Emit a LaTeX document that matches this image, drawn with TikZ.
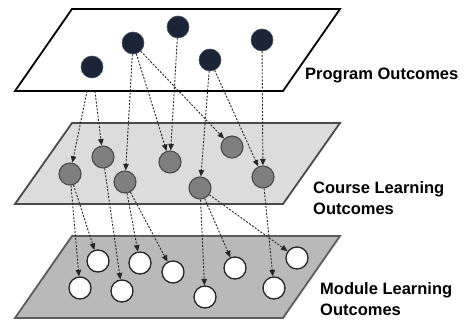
\documentclass[tikz,border=0pt]{standalone}
\usepackage{fontspec}
\setmainfont{Liberation Sans}
\usetikzlibrary{arrows.meta}
\definecolor{navy}{HTML}{1C2437}
\definecolor{midfill}{HTML}{DCDCDC}
\definecolor{botfill}{HTML}{B9B9B9}
\definecolor{cgray}{HTML}{7F7F7F}
\definecolor{edgegray}{HTML}{4A4A4A}
\tikzset{
  plane/.style={line width=1.8pt, line join=miter},
  po/.style={circle, minimum size=22pt, inner sep=0pt, fill=navy, draw=navy!80!white, line width=0.6pt},
  clo/.style={circle, minimum size=22pt, inner sep=0pt, fill=cgray, draw=edgegray, line width=1.1pt},
  mlo/.style={circle, minimum size=22pt, inner sep=0pt, fill=white, draw=black!85, line width=1.3pt},
  link/.style={line width=0.9pt, draw=black!85, dash pattern=on 2pt off 1.5pt,
    -{Triangle[length=6.5pt,width=5.5pt]}},
  lbl/.style={anchor=west, align=left, inner sep=0pt, font={\fontsize{16.5}{20.5}\selectfont\bfseries}}
}
\begin{document}
\begin{tikzpicture}[x=1pt,y=-1pt]
\useasboundingbox (0,0) rectangle (470,320);
% planes
\draw[plane, fill=white, draw=black] (72,9) -- (340,9) -- (283,91) -- (15,91) -- cycle;
\draw[plane, fill=midfill, draw=edgegray] (72,123) -- (340,123) -- (283,204) -- (15,204) -- cycle;
\draw[plane, fill=botfill, draw=edgegray!90] (72,236) -- (340,236) -- (283,318) -- (15,318) -- cycle;
% top nodes
\node[po] (A) at (92,67) {};
\node[po] (B) at (133,43) {};
\node[po] (C) at (178,27) {};
\node[po] (D) at (210,60) {};
\node[po] (E) at (262,40) {};
% middle nodes
\node[clo] (M1) at (70,174) {};
\node[clo] (M2) at (103,157) {};
\node[clo] (M3) at (125,182) {};
\node[clo] (M4) at (170,162) {};
\node[clo] (M5) at (232,147) {};
\node[clo] (M6) at (200,188) {};
\node[clo] (M7) at (263,177) {};
% bottom nodes
\node[mlo] (W1) at (98,261) {};
\node[mlo] (W2) at (80,288) {};
\node[mlo] (W3) at (140,263) {};
\node[mlo] (W4) at (122,291) {};
\node[mlo] (W5) at (173,272) {};
\node[mlo] (W6) at (235,268) {};
\node[mlo] (W7) at (205,297) {};
\node[mlo] (W8) at (274,288) {};
\node[mlo] (W9) at (297,258) {};
% top -> middle
\draw[link, shorten <=13pt] (A) -- (M1);
\draw[link, shorten <=13pt] (A) -- (M2);
\draw[link] (B) -- (M3);
\draw[link] (B) -- (M4);
\draw[link] (B) -- (M5);
\draw[link] (C) -- (M4);
\draw[link] (D) -- (M6);
\draw[link] (D) -- (M7);
\draw[link] (E) -- (M7);
% middle -> bottom
\draw[link] (M1) -- (W1);
\draw[link] (M1) -- (W2);
\draw[link] (M2) -- (W4);
\draw[link] (M3) -- (W3);
\draw[link] (M3) -- (W5);
\draw[link] (M6) -- (W6);
\draw[link] (M6) -- (W7);
\draw[link] (M6) -- (W9);
\draw[link] (M7) -- (W8);
% labels
\node[lbl] (L1) at (305,75) {Program Outcomes};
\node[lbl] (L2) at (313,198) {Course Learning\\Outcomes};
\node[lbl] (L3) at (320,299) {Module Learning\\Outcomes};
\end{tikzpicture}
\end{document}
